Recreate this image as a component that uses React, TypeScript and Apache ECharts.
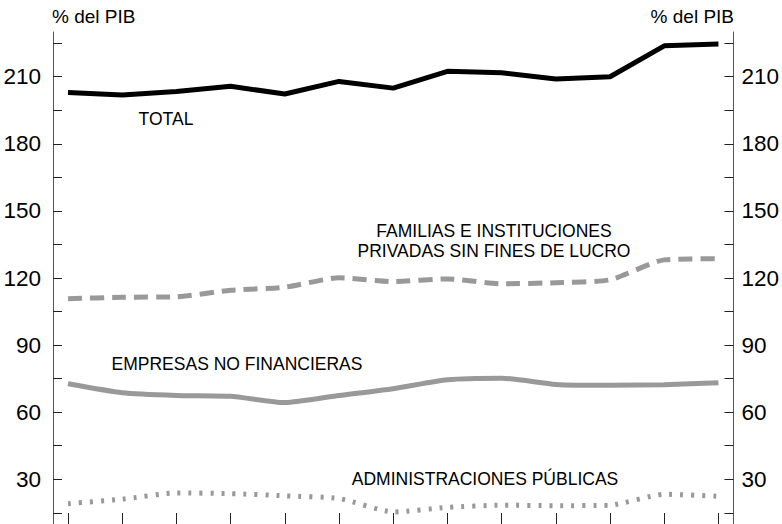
import React, { useEffect, useRef } from "react";
import * as echarts from "echarts";

const periods = ["1", "2", "3", "4", "5", "6", "7", "8", "9", "10", "11", "12", "13"];
const total = [203.0, 201.8, 203.4, 205.7, 202.3, 207.9, 204.9, 212.4, 211.8, 209.0, 210.0, 223.8, 224.6];
const familias = [110.7, 111.4, 111.6, 114.5, 115.9, 120.1, 118.4, 119.6, 117.4, 117.9, 119.2, 128.1, 128.6];
const empresas = [72.7, 68.7, 67.5, 67.1, 64.3, 67.5, 70.5, 74.5, 75.2, 72.4, 72.0, 72.3, 73.2];
const administraciones = [19.1, 21.1, 23.9, 23.6, 22.6, 21.4, 15.4, 17.4, 18.4, 18.2, 18.4, 23.3, 22.4];
const yTickValues = [15, 30, 45, 60, 75, 90, 105, 120, 135, 150, 165, 180, 195, 210, 225];
const yLabelValues = [30, 60, 90, 120, 150, 180, 210];
const unitLabel = "% del PIB";

const FONT = "Liberation Sans, Arial, Helvetica, sans-serif";
const GRAY = "#999999";

function yAxisDef(position: "left" | "right") {
  return {
    type: "value",
    position,
    min: 10,
    max: 230,
    offset: 15,
    splitLine: { show: false },
    axisLine: { show: true, lineStyle: { color: "#555", width: 1 } },
    axisTick: {
      show: true,
      inside: true,
      length: 9,
      customValues: yTickValues,
      lineStyle: { color: "#222", width: 1 },
    },
    axisLabel: {
      show: true,
      customValues: yLabelValues,
      fontSize: 22.5,
      fontFamily: FONT,
      color: "#000",
      margin: position === "left" ? 12 : 8,
    },
  };
}

export default function App() {
  const ref = useRef<HTMLDivElement>(null);
  useEffect(() => {
    if (!ref.current) return;
    const chart = echarts.init(ref.current, undefined, { renderer: "svg" });
    const labelStyle = { fontSize: 17.5, fontFamily: FONT, fill: "#000" };
    chart.setOption({
      animation: false,
      backgroundColor: "#fff",
      grid: { left: 68, right: 61, top: 32, bottom: 0, containLabel: false },
      xAxis: {
        type: "category",
        data: periods,
        boundaryGap: false,
        axisLine: { show: false },
        axisTick: { show: true, inside: true, length: 11, lineStyle: { color: "#222", width: 1 } },
        axisLabel: { show: false },
        splitLine: { show: false },
      },
      yAxis: [yAxisDef("left"), yAxisDef("right")],
      series: [
        {
          name: "TOTAL",
          type: "line",
          data: total,
          symbol: "none",
          lineStyle: { color: "#000", width: 5 },
        },
        {
          name: "FAMILIAS E INSTITUCIONES PRIVADAS SIN FINES DE LUCRO",
          type: "line",
          data: familias,
          symbol: "none",
          smooth: 0.2,
          lineStyle: { color: GRAY, width: 5, type: [14, 8], cap: "butt" },
        },
        {
          name: "EMPRESAS NO FINANCIERAS",
          type: "line",
          data: empresas,
          symbol: "none",
          smooth: 0.2,
          lineStyle: { color: GRAY, width: 5 },
        },
        {
          name: "ADMINISTRACIONES PÚBLICAS",
          type: "line",
          data: administraciones,
          symbol: "none",
          smooth: 0.2,
          lineStyle: { color: GRAY, width: 5, type: [3, 8], cap: "butt" },
        },
      ],
      graphic: [
        {
          type: "text",
          left: 52,
          top: 7,
          style: { text: unitLabel, fontSize: 19, fontFamily: FONT, fill: "#000" },
        },
        {
          type: "text",
          right: 48,
          top: 7,
          style: { text: unitLabel, fontSize: 19, fontFamily: FONT, fill: "#000" },
        },
        {
          type: "text",
          x: 166,
          y: 119,
          style: { ...labelStyle, text: "TOTAL", align: "center", verticalAlign: "middle" },
        },
        {
          type: "text",
          x: 494,
          y: 241,
          style: {
            ...labelStyle,
            text: "FAMILIAS E INSTITUCIONES\nPRIVADAS SIN FINES DE LUCRO",
            align: "center",
            verticalAlign: "middle",
            lineHeight: 20,
          },
        },
        {
          type: "text",
          x: 237,
          y: 364,
          style: { ...labelStyle, text: "EMPRESAS NO FINANCIERAS", align: "center", verticalAlign: "middle" },
        },
        {
          type: "text",
          x: 485,
          y: 479,
          style: { ...labelStyle, text: "ADMINISTRACIONES PÚBLICAS", align: "center", verticalAlign: "middle" },
        },
      ],
    });
    return () => chart.dispose();
  }, []);
  return (
    <div
      ref={ref}
      style={{ position: "absolute", left: 0, top: 0, width: 782, height: 524 }}
    />
  );
}
